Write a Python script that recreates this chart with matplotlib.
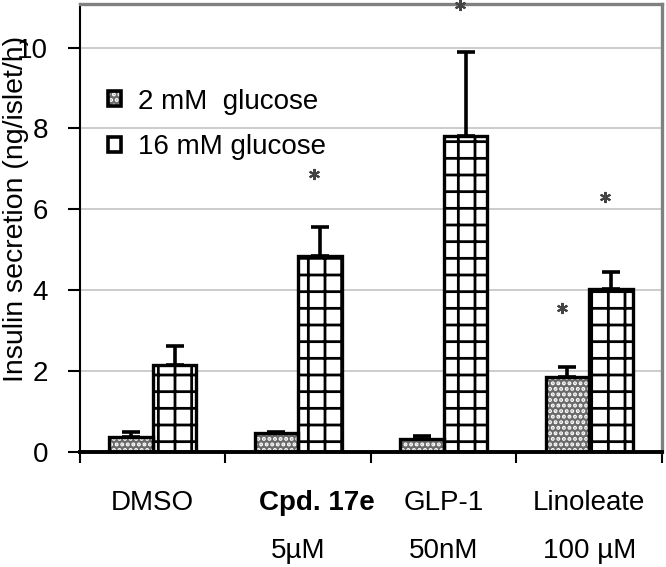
import numpy as np
import matplotlib
matplotlib.use('Agg')
import matplotlib.pyplot as plt
from matplotlib.patches import Patch

plt.rcParams['font.family'] = ['Liberation Sans', 'DejaVu Sans']
plt.rcParams['hatch.linewidth'] = 2.0

# дані з рисунку
treatments = ['DMSO', 'Cpd. 17e', 'GLP-1', 'Linoleate']
doses = ['', '5µM', '50nM', '100 µM']
low_glc = [0.35, 0.45, 0.30, 1.84]
low_err = [0.13, 0.04, 0.08, 0.25]
high_glc = [2.13, 4.85, 7.82, 4.02]
high_err = [0.49, 0.70, 2.06, 0.42]
# зірочки: (категорія, серія, висота)
stars = [(1, 1, 6.87), (2, 1, 11.05), (3, 0, 3.55), (3, 1, 6.30)]
series_labels = ['2 mM  glucose', '16 mM glucose']

fig = plt.figure(figsize=(6.66, 5.67), dpi=100)
ax = fig.add_axes([0.1201, 0.2037, 0.994 - 0.1201, 0.9938 - 0.2037])

x = np.arange(len(treatments))
w = 0.3
xl = x - w / 2
xh = x + w / 2

# сітка
for yv in range(2, 11, 2):
    ax.axhline(yv, color='#c4c4c4', lw=1.2, zorder=0)

# 2 mM: сірий фон з білими точками
b_fill = ax.bar(xl, low_glc, w, color='#6a6a6a', edgecolor='white', hatch='...', lw=0, zorder=2)
b_edge = ax.bar(xl, low_glc, w, fill=False, edgecolor='black', lw=2.4, zorder=3)
# 16 mM: біла сітка
h_fill = ax.bar(xh, high_glc, w, color='white', edgecolor='black', hatch='+', lw=0, zorder=2)
h_edge = ax.bar(xh, high_glc, w, fill=False, edgecolor='black', lw=2.4, zorder=3)

zeros = np.zeros(len(x))
ax.errorbar(xl, low_glc, yerr=[zeros, low_err], fmt='none', ecolor='black',
            elinewidth=2.6, capsize=6.5, capthick=2.6, zorder=1)
ax.errorbar(xh, high_glc, yerr=[zeros, high_err], fmt='none', ecolor='black',
            elinewidth=2.6, capsize=6.5, capthick=2.6, zorder=1)

for ci, si, yv in stars:
    xs = xl[ci] if si == 0 else xh[ci]
    ax.plot(xs - 0.04, yv, marker=(6, 2, 0), ms=8, mew=1.5, color='#444444',
            clip_on=False, zorder=5)

ax.set_xlim(-0.5, 3.5)
ax.set_ylim(0, 11.09)
ax.set_yticks(range(0, 11, 2))
ax.tick_params(axis='y', labelsize=20, length=9, width=1.5, pad=14, direction='out')
ax.set_xticks(np.arange(-0.5, 4, 1))
ax.set_xticklabels([])
ax.tick_params(axis='x', length=8, width=1.5, direction='out')

ax.spines['left'].set_linewidth(1.5)
ax.spines['bottom'].set_linewidth(2.8)
for s in ['top', 'right']:
    ax.spines[s].set_color('#808080')
    ax.spines[s].set_linewidth(2.4)

ax.set_ylabel('Insulin secretion (ng/islet/h)', fontsize=20.5)
ax.yaxis.set_label_coords(-0.087, 0.541)

# підписи категорій у два рядки
for i, (t, d) in enumerate(zip(treatments, doses)):
    bold = t.startswith('Cpd')
    dx = 13.7 if bold else 0
    ax.annotate(t, xy=(x[i], 0), xycoords=('data', 'axes fraction'),
                xytext=(dx, -42), textcoords='offset points', ha='center',
                va='baseline', fontsize=20, fontweight='bold' if bold else 'normal')
    if d:
        ax.annotate(d, xy=(x[i], 0), xycoords=('data', 'axes fraction'),
                    xytext=(0, -77), textcoords='offset points', ha='center',
                    va='baseline', fontsize=20)

# легенда
lh_low = Patch(facecolor='#6a6a6a', edgecolor='white', hatch='...', lw=0)
lh_low_e = Patch(fill=False, edgecolor='black', lw=2.6)
lh_high = Patch(facecolor='white', edgecolor='black', lw=2.6)
leg = ax.legend([(lh_low, lh_low_e), lh_high], series_labels,
                loc='upper left', bbox_to_anchor=(0.006, 0.866), frameon=False,
                fontsize=20, handlelength=0.45, handleheight=0.45,
                handletextpad=0.6, labelspacing=0.7)

fig.savefig('out.png', dpi=100)
